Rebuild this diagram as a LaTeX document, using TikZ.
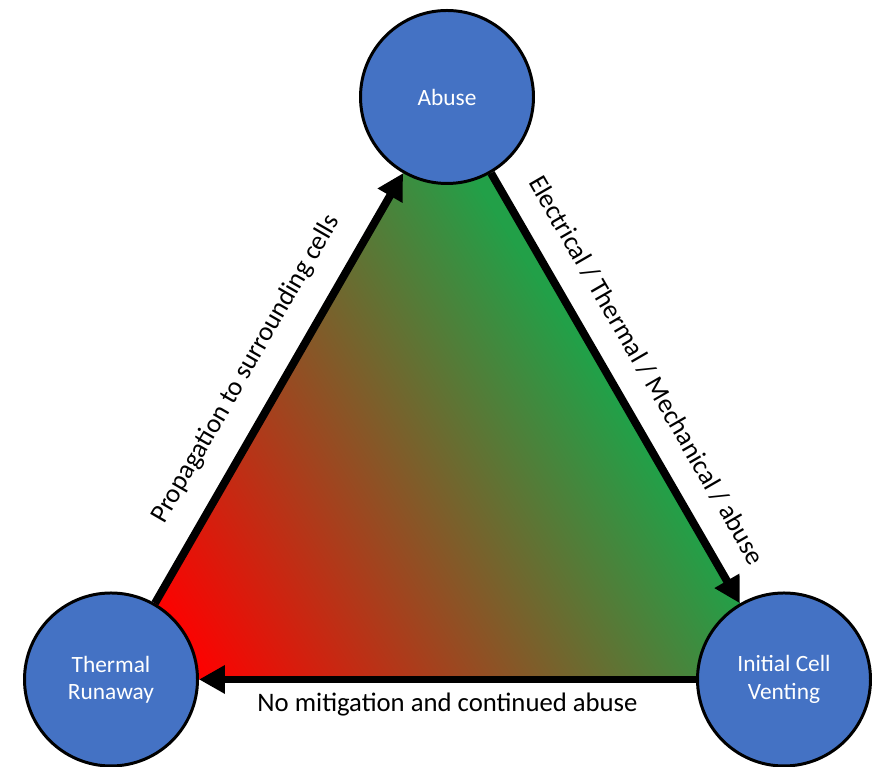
\documentclass[tikz,border=0pt]{standalone}
\usepackage{fontspec}
\setmainfont{Carlito}
\usetikzlibrary{arrows.meta, backgrounds}
\definecolor{stageblue}{RGB}{68,114,196}
\definecolor{hotred}{RGB}{255,0,0}
\definecolor{midbrown}{RGB}{150,72,34}
\definecolor{safegreen}{RGB}{34,160,72}

\begin{document}
\begin{tikzpicture}[
  stage/.style={circle, draw=black, fill=stageblue, line width=1.7pt, minimum size=3.46cm, text=white, align=center, font=\fontsize{13.3}{15.5}\selectfont},
  flowarrow/.style={draw=black, line width=4.5pt, -{Triangle[length=0.52cm, width=0.54cm]}},
  lab/.style={font=\fontsize{15.2}{17}\selectfont, text=black}
]
\useasboundingbox (0,0) rectangle (17.54,15.34);

% Stages
\node[stage] (abuse) at (8.94,13.40) {Abuse};
\node[stage] (runaway) at (2.22,1.75) {Thermal\\Runaway};
\node[stage] (venting) at (15.68,1.75) {Initial Cell\\Venting};

% Red to green triangle
\begin{scope}[on background layer]
  \clip (runaway.center) -- (abuse.center) -- (venting.center) -- cycle;
  \begin{scope}[transform canvas={shift={(2.22,1.75)}, rotate=32}]
    \fill[hotred] (-4,-12) rectangle (1.55,12);
    \shade[left color=hotred, middle color=midbrown, right color=safegreen] (1.5,-12) rectangle (11.5,12);
    \fill[safegreen] (11.45,-12) rectangle (25,12);
  \end{scope}
\end{scope}

% Cycle
\draw[flowarrow] (runaway) -- (abuse) node[midway, sloped, above=0.33cm, lab] {Propagation to surrounding cells};
\draw[flowarrow] (abuse) -- (venting) node[midway, sloped, above=0.33cm, lab] {Electrical / Thermal / Mechanical / abuse};
\draw[flowarrow] (venting) -- (runaway) node[midway, below=0.08cm, lab] {No mitigation and continued abuse};

\end{tikzpicture}
\end{document}
